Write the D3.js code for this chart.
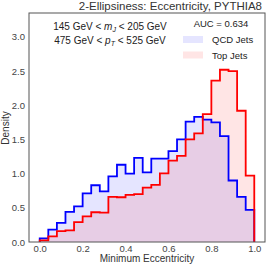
<!DOCTYPE html>
<html><head><meta charset="utf-8">
<script src="https://cdn.jsdelivr.net/npm/d3@7"></script>
<style>body{margin:0;background:#fff}svg{display:block}text{font-family:"Liberation Sans",Arial,sans-serif}</style>
</head><body><svg id="c" width="266" height="266"></svg>
<script>
const binEdges = d3.range(0, 1.0001, 0.04).map(v => +v.toFixed(2));
const qcdDensity = [0.054,0.18,0.28,0.44,0.52,0.71,0.83,0.74,0.96,1.13,1.0,1.23,1.02,1.22,1.22,1.33,1.50,1.76,1.83,1.79,1.75,1.55,0.90,0.66,0.47];
const topDensity = [0.025,0.083,0.16,0.17,0.29,0.375,0.435,0.43,0.66,0.655,0.69,0.70,0.795,0.835,1.005,1.19,1.26,1.50,1.59,1.87,2.36,2.52,2.50,1.92,0.97];
const xTicks = [0.0,0.2,0.4,0.6,0.8,1.0];
const yTicks = [0.0,0.5,1.0,1.5,2.0,2.5,3.0];
const seriesNames = ["QCD Jets","Top Jets"];

const svg = d3.select("#c");
const m = {l:29, r:265, t:13, b:242};
const x = d3.scaleLinear().domain([-0.05,1.05]).range([m.l,m.r]);
const y = d3.scaleLinear().domain([0,3.35]).range([m.b,m.t]);

svg.append("clipPath").attr("id","clip").append("rect")
  .attr("x",m.l).attr("y",m.t).attr("width",m.r-m.l).attr("height",m.b-m.t);

function pts(vals){
  const p=[[0,0]];
  vals.forEach((v,i)=>p.push([binEdges[i],v]));
  p.push([binEdges[vals.length],vals[vals.length-1]]);
  p.push([binEdges[vals.length],0]);
  return p;
}
const line = d3.line().x(d=>x(d[0])).y(d=>y(d[1])).curve(d3.curveStepAfter);
const g = svg.append("g").attr("clip-path","url(#clip)");
const series = [{v:qcdDensity,c:"#0000ff",f:"rgba(0,0,255,0.1)"},{v:topDensity,c:"#ff0000",f:"rgba(255,0,0,0.1)"}];
series.forEach(s=>g.append("path").attr("d",line(pts(s.v))).attr("fill",s.f).attr("stroke","none"));
series.forEach(s=>g.append("path").attr("d",line(pts(s.v))).attr("fill","none").attr("stroke",s.c).attr("stroke-width",1.8));

svg.append("rect").attr("x",m.l).attr("y",m.t).attr("width",m.r-m.l).attr("height",m.b-m.t)
  .attr("fill","none").attr("stroke","#555").attr("stroke-width",1);

const xa = svg.append("g").attr("transform",`translate(0,${m.b})`)
  .call(d3.axisBottom(x).tickValues(xTicks).tickFormat(d3.format(".1f")).tickSize(0).tickPadding(3));
const ya = svg.append("g").attr("transform",`translate(${m.l},0)`)
  .call(d3.axisLeft(y).tickValues(yTicks).tickFormat(d3.format(".1f")).tickSize(0).tickPadding(4));
[xa,ya].forEach(a=>{a.select(".domain").remove();a.selectAll("text").attr("font-size",9.5).attr("fill","#444").style("font-family","Liberation Sans, Arial, sans-serif");});

svg.append("text").attr("x",262).attr("y",10).attr("text-anchor","end").attr("font-size",11.5).attr("fill","#333")
  .text("2-Ellipsiness: Eccentricity, PYTHIA8");
svg.append("text").attr("x",147).attr("y",262).attr("text-anchor","middle").attr("font-size",10).attr("fill","#333")
  .text("Minimum Eccentricity");
svg.append("text").attr("transform","translate(9,128) rotate(-90)").attr("text-anchor","middle").attr("font-size",10).attr("fill","#333")
  .text("Density");

const t1 = svg.append("text").attr("x",110).attr("y",30).attr("text-anchor","middle").attr("font-size",10).attr("fill","#222");
t1.append("tspan").text("145 GeV < ");
t1.append("tspan").attr("font-style","italic").text("m");
t1.append("tspan").attr("font-style","italic").attr("font-size",7).attr("dy",2).text("J");
t1.append("tspan").attr("dy",-2).text(" < 205 GeV");
const t2 = svg.append("text").attr("x",110).attr("y",44).attr("text-anchor","middle").attr("font-size",10).attr("fill","#222");
t2.append("tspan").text("475 GeV < ");
t2.append("tspan").attr("font-style","italic").text("p");
t2.append("tspan").attr("font-style","italic").attr("font-size",7).attr("dy",2).text("T");
t2.append("tspan").attr("dy",-2).text(" < 525 GeV");

svg.append("text").attr("x",221).attr("y",27).attr("text-anchor","middle").attr("font-size",9.5).attr("fill","#222").text("AUC = 0.634");
seriesNames.forEach((n,i)=>{
  svg.append("rect").attr("x",183).attr("y",36+i*15.5).attr("width",20).attr("height",7).attr("fill",series[i].f);
  svg.append("text").attr("x",212).attr("y",43+i*15.5).attr("font-size",9.5).attr("fill","#222").text(n);
});
</script></body></html>
